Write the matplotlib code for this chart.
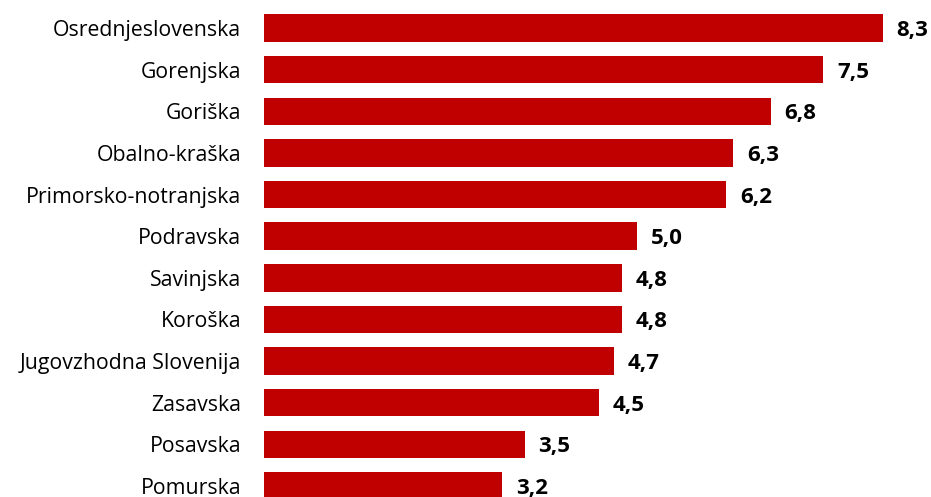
import matplotlib.pyplot as plt

# podatki
regije = ["Osrednjeslovenska", "Gorenjska", "Goriška", "Obalno-kraška",
          "Primorsko-notranjska", "Podravska", "Savinjska", "Koroška",
          "Jugovzhodna Slovenija", "Zasavska", "Posavska", "Pomurska"]
vrednosti = [8.3, 7.5, 6.8, 6.3, 6.2, 5.0, 4.8, 4.8, 4.7, 4.5, 3.5, 3.2]

RDECA = "#C00000"

fig = plt.figure(figsize=(9.31, 4.97), dpi=100)
left = 263.5 / 931
ax = fig.add_axes([left, 0, 1 - left, 1])

pos = list(range(len(regije)))
bars = ax.barh(pos, vrednosti, height=0.66, color=RDECA)

# os: 74.6 px na enoto, 41.65 px med stolpci
ax.set_xlim(0, (931 - 263.5) / 74.6)
ax.set_ylim(11 + 11 / 41.65, -28 / 41.65)

ax.set_yticks(pos)
ax.set_yticklabels(regije, fontsize=15.3, family=["Open Sans", "DejaVu Sans"])
ax.tick_params(axis="y", length=0, pad=16)
ax.set_xticks([])
for s in ax.spines.values():
    s.set_visible(False)

oznake = ax.bar_label(bars, labels=[f"{v:.1f}".replace(".", ",") for v in vrednosti],
                      padding=10, fontsize=16, fontweight="bold",
                      family=["Open Sans", "DejaVu Sans"])
for t in oznake:
    t.set_verticalalignment("center_baseline")

fig.savefig("out.png", dpi=100)
